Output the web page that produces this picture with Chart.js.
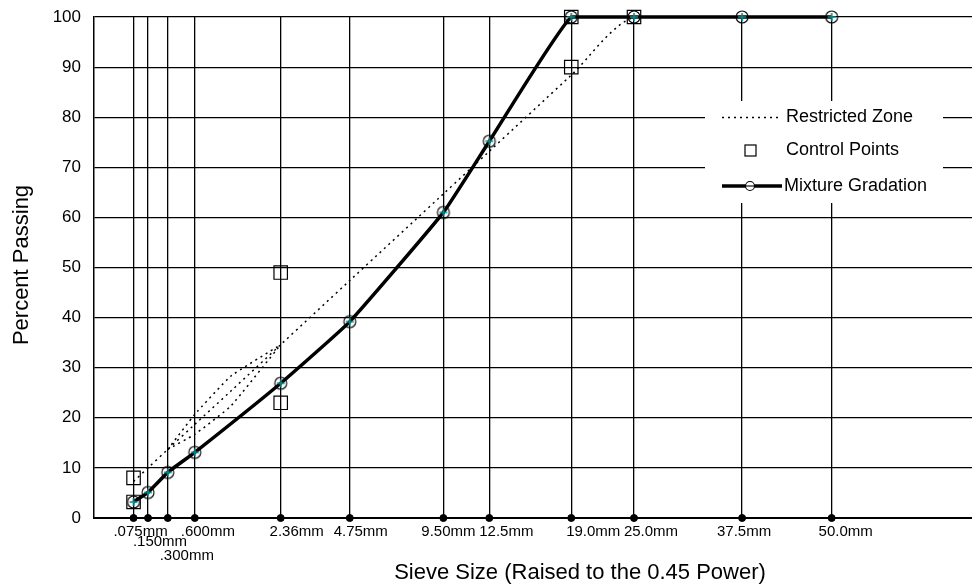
<!DOCTYPE html>
<html>
<head>
<meta charset="utf-8">
<script src="https://cdn.jsdelivr.net/npm/chart.js@4.4.1/dist/chart.umd.min.js"></script>
<style>
    html, body { margin: 0; padding: 0; background: #fff; overflow: hidden; }
    #gradation-chart { display: block; }
</style>
</head>
<body>
<canvas id="gradation-chart" width="972" height="585"></canvas>
<script>
// Tamis (mm) et libellés de l'axe X
const sieveSizes = [0.075, 0.15, 0.3, 0.6, 2.36, 4.75, 9.5, 12.5, 19, 25, 37.5, 50];
const sieveLabels = ['.075mm', '.150mm', '.300mm', '.600mm', '2.36mm', '4.75mm', '9.50mm', '12.5mm', '19.0mm', '25.0mm', '37.5mm', '50.0mm'];

// Courbe granulométrique du mélange (% passant)
const mixturePassing = [3.2, 5.1, 9.1, 13.1, 26.9, 39.2, 61, 75.2, 100, 100, 100, 100];

// Points de contrôle
const controlSizes = [0.075, 0.075, 2.36, 2.36, 19, 19, 25];
const controlPassing = [8, 3.2, 49, 23, 100, 90, 100];

// Ligne de densité maximale
const densitySizes = [0.075, 0.15, 0.3, 0.6, 1.18, 2.36, 4.75, 9.5, 12.5, 19, 25, 37.5];
const densityPassing = [7.3, 10, 13.7, 18.7, 25.3, 34.6, 47.4, 64.7, 73.2, 88.4, 100, 100];

// Zone restreinte (bornes haute et basse)
const zoneSizes = [0.3, 0.6, 1.18, 2.36];
const zoneUpper = [13.7, 20.7, 28.3, 34.6];
const zoneLower = [13.7, 16.7, 22.3, 34.6];

// Axe Y
const yTicks = [0, 10, 20, 30, 40, 50, 60, 70, 80, 90, 100];

const POWER = 0.45;
const FONT = "'Liberation Sans', Arial, sans-serif";

// Mise en page des libellés de tamis (décalage px, ligne)
const labelShift = [7, 12, 19, 13, 16, 11, 5, 17, 22, 17, 2, 14];
const labelRow = [0, 1, 2, 0, 0, 0, 0, 0, 0, 0, 0, 0];
const rowOffset = [14, 23.5, 38];

function toPoints(sizes, values) {
    return sizes.map((s, i) => ({ x: Math.pow(s, POWER), y: values[i] }));
}

// Marqueur : cercle avec croix bleu-vert
function makeMarker() {
    const c = document.createElement('canvas');
    c.width = 16;
    c.height = 16;
    const ctx = c.getContext('2d');
    ctx.strokeStyle = '#000';
    ctx.lineWidth = 1.1;
    ctx.beginPath();
    ctx.arc(8, 8, 6, 0, Math.PI * 2);
    ctx.stroke();
    ctx.strokeStyle = '#0b8c8c';
    ctx.lineWidth = 1.6;
    ctx.beginPath();
    ctx.moveTo(4, 8); ctx.lineTo(12, 8);
    ctx.moveTo(8, 4); ctx.lineTo(8, 12);
    ctx.stroke();
    return c;
}

// Libellés, titres et légende dessinés à la main
const decorations = {
    id: 'decorations',
    afterDraw(chart) {
        const ctx = chart.ctx;
        const area = chart.chartArea;
        const xs = chart.scales.x;
        ctx.save();
        ctx.fillStyle = '#000';
        ctx.textAlign = 'center';
        ctx.textBaseline = 'middle';

        // Libellés des tamis
        ctx.font = '15px ' + FONT;
        sieveSizes.forEach((s, i) => {
            const px = xs.getPixelForValue(Math.pow(s, POWER)) + labelShift[i];
            ctx.fillText(sieveLabels[i], px, area.bottom + rowOffset[labelRow[i]]);
        });

        // Titres des axes
        ctx.font = '22px ' + FONT;
        ctx.fillText('Sieve Size (Raised to the 0.45 Power)', 580, 573);
        ctx.save();
        ctx.translate(22, 265);
        ctx.rotate(-Math.PI / 2);
        ctx.fillText('Percent Passing', 0, 0);
        ctx.restore();

        // Légende
        ctx.fillStyle = '#fff';
        ctx.fillRect(705, 101, 238, 102);
        ctx.fillStyle = '#000';
        ctx.strokeStyle = '#000';

        ctx.lineWidth = 1.5;
        ctx.setLineDash([2, 4]);
        ctx.beginPath();
        ctx.moveTo(722, 117.5); ctx.lineTo(778, 117.5);
        ctx.stroke();
        ctx.setLineDash([]);

        ctx.lineWidth = 1.2;
        ctx.strokeRect(745, 145, 11, 11);

        ctx.lineWidth = 3.5;
        ctx.beginPath();
        ctx.moveTo(722, 186); ctx.lineTo(782, 186);
        ctx.stroke();
        ctx.lineWidth = 1.1;
        ctx.fillStyle = '#fff';
        ctx.beginPath();
        ctx.arc(750, 186, 4.5, 0, Math.PI * 2);
        ctx.fill();
        ctx.stroke();
        ctx.beginPath();
        ctx.moveTo(745.5, 186); ctx.lineTo(754.5, 186);
        ctx.stroke();

        ctx.fillStyle = '#000';
        ctx.textAlign = 'left';
        ctx.font = '18px ' + FONT;
        ctx.fillText('Restricted Zone', 786, 117);
        ctx.fillText('Control Points', 786, 150);
        ctx.fillText('Mixture Gradation', 784, 186);
        ctx.restore();
    }
};

document.addEventListener('DOMContentLoaded', () => {
    const ctx = document.getElementById('gradation-chart').getContext('2d');
    const marker = makeMarker();
    const dotted = [2, 4];

    new Chart(ctx, {
        type: 'scatter',
        data: {
            datasets: [
                {
                    label: 'Mixture Gradation',
                    data: toPoints(sieveSizes, mixturePassing),
                    showLine: true,
                    borderColor: '#000',
                    borderWidth: 3.5,
                    tension: 0.12,
                    pointStyle: marker,
                    clip: false
                },
                {
                    label: 'Sieves',
                    data: sieveSizes.map(s => ({ x: Math.pow(s, POWER), y: 0 })),
                    pointRadius: 3.5,
                    backgroundColor: '#000',
                    borderColor: '#000',
                    clip: false
                },
                {
                    label: 'Control Points',
                    data: toPoints(controlSizes, controlPassing),
                    pointStyle: 'rect',
                    pointRadius: 9.5,
                    borderWidth: 1.2,
                    borderColor: '#000',
                    backgroundColor: 'rgba(0,0,0,0)',
                    clip: false
                },
                {
                    label: 'Restricted Zone',
                    data: toPoints(densitySizes, densityPassing),
                    showLine: true,
                    borderColor: '#000',
                    borderWidth: 1.5,
                    borderDash: dotted,
                    tension: 0.3,
                    pointRadius: 0,
                    clip: false
                },
                {
                    label: 'Zone haute',
                    data: toPoints(zoneSizes, zoneUpper),
                    showLine: true,
                    borderColor: '#000',
                    borderWidth: 1.5,
                    borderDash: dotted,
                    tension: 0.1,
                    pointRadius: 0,
                    clip: false
                },
                {
                    label: 'Zone basse',
                    data: toPoints(zoneSizes, zoneLower),
                    showLine: true,
                    borderColor: '#000',
                    borderWidth: 1.5,
                    borderDash: dotted,
                    tension: 0.1,
                    pointRadius: 0,
                    clip: false
                }
            ]
        },
        options: {
            responsive: false,
            animation: false,
            layout: {
                autoPadding: false,
                padding: { top: 17, right: 0, bottom: 0, left: 0 }
            },
            plugins: {
                legend: { display: false },
                tooltip: { enabled: false }
            },
            scales: {
                x: {
                    type: 'linear',
                    min: 0,
                    max: 6.921,
                    afterBuildTicks: (scale) => {
                        scale.ticks = sieveSizes.map(s => ({ value: Math.pow(s, POWER) }));
                    },
                    afterFit: (scale) => {
                        scale.height = 67;
                        scale.paddingLeft = 0;
                        scale.paddingRight = 0;
                    },
                    ticks: { display: false },
                    grid: { color: '#000', lineWidth: 1.3, drawTicks: false },
                    border: { display: true, color: '#000', width: 2 }
                },
                y: {
                    min: 0,
                    max: 100,
                    afterBuildTicks: (scale) => {
                        scale.ticks = yTicks.map(v => ({ value: v }));
                    },
                    afterFit: (scale) => {
                        scale.width = 94;
                        scale.paddingTop = 0;
                        scale.paddingBottom = 0;
                    },
                    ticks: {
                        color: '#000',
                        padding: 13,
                        font: { family: FONT, size: 17 }
                    },
                    grid: { color: '#000', lineWidth: 1.2, drawTicks: false },
                    border: { display: true, color: '#000', width: 1.5 }
                }
            }
        },
        plugins: [decorations]
    });
});
</script>
</body>
</html>
